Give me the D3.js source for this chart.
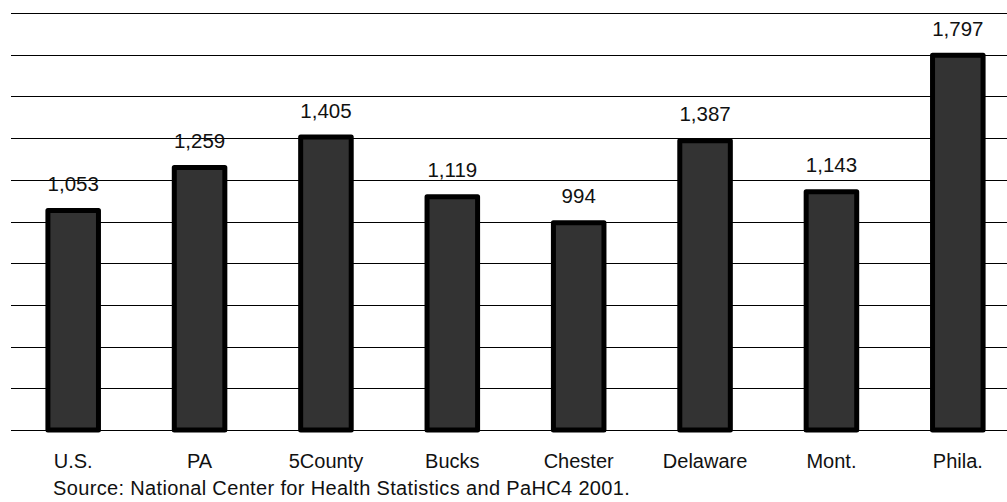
<!DOCTYPE html>
<html>
<head>
<meta charset="utf-8">
<script src="https://cdn.jsdelivr.net/npm/d3@7"></script>
<style>
  body { margin: 0; background: #fff; }
  text { font-family: "Liberation Sans", Arial, sans-serif; fill: #111; }
</style>
</head>
<body>
<div id="chart"></div>
<script>
// Dados
var categories = ["U.S.", "PA", "5County", "Bucks", "Chester", "Delaware", "Mont.", "Phila."];
var values = [1053, 1259, 1405, 1119, 994, 1387, 1143, 1797];
var gridTicks = [0, 200, 400, 600, 800, 1000, 1200, 1400, 1600, 1800, 2000];
var sourceNote = "Source: National Center for Health Statistics and PaHC4 2001.";

var data = categories.map(function(c, i) { return { name: c, value: values[i] }; });

var width = 1007, height = 502;

var svg = d3.select("#chart")
            .append("svg")
            .attr("width", width)
            .attr("height", height);

// Escalas
var xScale = d3.scaleBand()
               .domain(categories)
               .range([10, 1021])
               .paddingInner(0.6)
               .paddingOuter(0.3);

var yScale = d3.scaleLinear()
               .domain([0, 2000])
               .range([430, 13]);

// Linhas de grade
svg.selectAll("line.grid")
   .data(gridTicks)
   .enter()
   .append("line")
   .attr("class", "grid")
   .attr("x1", 11)
   .attr("x2", width)
   .attr("y1", function(d) { return Math.round(yScale(d)) + 0.5; })
   .attr("y2", function(d) { return Math.round(yScale(d)) + 0.5; })
   .attr("stroke", "#000")
   .attr("stroke-width", 1);

// Barras
svg.selectAll("rect.bar")
   .data(data)
   .enter()
   .append("rect")
   .attr("class", "bar")
   .attr("x", function(d) { return xScale(d.name); })
   .attr("y", function(d) { return yScale(d.value); })
   .attr("width", xScale.bandwidth())
   .attr("height", function(d) { return yScale(0) - yScale(d.value); })
   .attr("fill", "#333333")
   .attr("stroke", "#000")
   .attr("stroke-width", 5)
   .attr("stroke-linejoin", "round");

// Rótulos de valores
svg.selectAll("text.value")
   .data(data)
   .enter()
   .append("text")
   .attr("class", "value")
   .attr("x", function(d) { return xScale(d.name) + xScale.bandwidth() / 2; })
   .attr("y", function(d) { return yScale(d.value) - 19.5; })
   .attr("text-anchor", "middle")
   .style("font-size", "20.5px")
   .text(function(d) { return d3.format(",")(d.value); });

// Rótulos das categorias
svg.selectAll("text.cat")
   .data(data)
   .enter()
   .append("text")
   .attr("class", "cat")
   .attr("x", function(d) { return xScale(d.name) + xScale.bandwidth() / 2; })
   .attr("y", 467.5)
   .attr("text-anchor", "middle")
   .style("font-size", "20px")
   .text(function(d) { return d.name; });

// Fonte
svg.append("text")
   .attr("x", 53)
   .attr("y", 495)
   .style("font-size", "20px")
   .style("letter-spacing", "0.35px")
   .text(sourceNote);
</script>
</body>
</html>
